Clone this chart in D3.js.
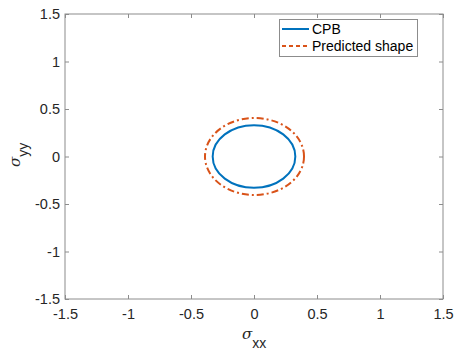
<!DOCTYPE html>
<html><head><meta charset="utf-8">
<script src="https://cdn.jsdelivr.net/npm/d3@7"></script>
<style>body{margin:0;background:#fff}svg{display:block}text{font-family:"Liberation Sans",Arial,Helvetica,sans-serif}</style>
</head><body><svg id="c" width="456" height="351"></svg>
<script>
const xTicks = [-1.5, -1, -0.5, 0, 0.5, 1, 1.5];
const yTicks = [-1.5, -1, -0.5, 0, 0.5, 1, 1.5];
const seriesNames = ["CPB", "Predicted shape"];
const centerX = [0, 0.004];
const centerY = [0, 0];
const radiusX = [0.328, 0.393];
const radiusY = [0.330, 0.405];
const colors = ["#0072BD", "#D95319"];
const dashes = [null, "7,3,2,3"];

const W = 456, H = 351;
const m = {l: 65, r: 13, t: 14, b: 52};
const svg = d3.select("#c");
const x = d3.scaleLinear().domain([-1.5, 1.5]).range([m.l, W - m.r]);
const y = d3.scaleLinear().domain([-1.5, 1.5]).range([H - m.b, m.t]);
const axisCol = "#8c8c8c", textCol = "#262626";

const g = svg.append("g");
g.append("rect").attr("x", x(-1.5)).attr("y", y(1.5)).attr("width", x(1.5) - x(-1.5)).attr("height", y(-1.5) - y(1.5))
  .attr("fill", "none").attr("stroke", axisCol).attr("stroke-width", 1);

function styleAxis(sel, showLabels) {
  sel.select(".domain").remove();
  sel.selectAll(".tick line").attr("stroke", axisCol);
  sel.selectAll(".tick text").attr("fill", textCol).style("font-size", "14.5px");
  if (!showLabels) sel.selectAll(".tick text").remove();
}
const fmt = d => String(d);
g.append("g").attr("transform", `translate(0,${y(-1.5)})`)
  .call(d3.axisBottom(x).tickValues(xTicks).tickSize(-4).tickPadding(10).tickFormat(fmt)).call(s => styleAxis(s, true));
g.append("g").attr("transform", `translate(0,${y(1.5)})`)
  .call(d3.axisTop(x).tickValues(xTicks).tickSize(-4)).call(s => styleAxis(s, false));
g.append("g").attr("transform", `translate(${x(-1.5)},0)`)
  .call(d3.axisLeft(y).tickValues(yTicks).tickSize(-4).tickPadding(5).tickFormat(fmt)).call(s => styleAxis(s, true));
g.append("g").attr("transform", `translate(${x(1.5)},0)`)
  .call(d3.axisRight(y).tickValues(yTicks).tickSize(-4)).call(s => styleAxis(s, false));

seriesNames.forEach((n, i) => {
  g.append("ellipse")
    .attr("cx", x(centerX[i])).attr("cy", y(centerY[i]))
    .attr("rx", x(radiusX[i]) - x(0)).attr("ry", y(0) - y(radiusY[i]))
    .attr("fill", "none").attr("stroke", colors[i]).attr("stroke-width", 2)
    .attr("stroke-dasharray", dashes[i]);
});

const xl = svg.append("text").attr("x", 242).attr("y", 339).attr("fill", textCol).style("font-size", "15px");
xl.append("tspan").text("σ").style("font-family", "'DejaVu Serif',serif").style("font-style", "italic");
xl.append("tspan").text("xx").attr("dy", 9).style("font-size", "14px");
const yl = svg.append("text").attr("transform", `translate(20,167) rotate(-90)`).attr("fill", textCol).style("font-size", "15px");
yl.append("tspan").text("σ").style("font-family", "'DejaVu Serif',serif").style("font-style", "italic");
yl.append("tspan").text("yy").attr("dy", 8).style("font-size", "14px");

const lg = svg.append("g");
lg.append("rect").attr("x", 279.5).attr("y", 19.5).attr("width", 138).attr("height", 37)
  .attr("fill", "#fff").attr("stroke", axisCol).attr("stroke-width", 1);
seriesNames.forEach((n, i) => {
  const yy = 29 + i * 17;
  lg.append("line").attr("x1", 282).attr("x2", 309).attr("y1", yy).attr("y2", yy)
    .attr("stroke", colors[i]).attr("stroke-width", 2).attr("stroke-dasharray", i ? "4,3" : null);
  lg.append("text").attr("x", 312).attr("y", yy).attr("dy", "0.35em").attr("fill", "#000").style("font-size", "14px").text(n);
});
</script></body></html>
